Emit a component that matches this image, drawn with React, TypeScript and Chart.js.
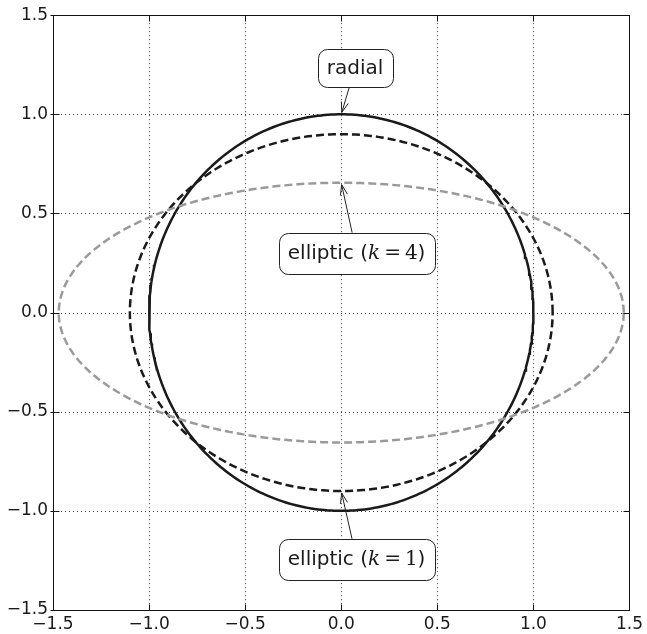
import { useEffect, useRef } from 'react';
import { Chart, registerables } from 'chart.js';

Chart.register(...registerables);

// Axis range shared by both axes
const AXIS_MIN = -1.5;
const AXIS_MAX = 1.5;
const TICK_STEP = 0.5;
const tickValues = [-1.5, -1.0, -0.5, 0.0, 0.5, 1.0, 1.5];

// Contours: semi-axes of each closed curve (x half-width, y half-height)
const curveNames = ['elliptic (k=4)', 'elliptic (k=1)', 'radial'];
const semiAxisX = [1.47, 1.1, 1.0];
const semiAxisY = [0.655, 0.9, 1.0];
const curveColors = ['#9a9a9a', '#1a1a1a', '#1a1a1a'];
const curveDashes = [[8, 4], [8, 4], []];
const SAMPLES = 360;

// Callouts: label text, the point they point at, and where the box sits
const calloutPrefix = ['radial', 'elliptic (', 'elliptic ('];
const calloutK = ['', '4', '1'];
const calloutTargetX = [0, 0, 0];
const calloutTargetY = [semiAxisY[2], semiAxisY[0], -semiAxisY[1]];
const calloutBoxX = [0.072, 0.08, 0.08];
const calloutBoxY = [1.235, 0.3, -1.244];

const SANS = '"DejaVu Sans", sans-serif';
const SERIF = '"DejaVu Serif", serif';

function fmtTick(v: number): string {
  const s = Math.abs(v).toFixed(1);
  return v < 0 ? '\u2212' + s : s;
}

function ellipsePoints(a: number, b: number) {
  const pts: { x: number; y: number }[] = [];
  for (let i = 0; i <= SAMPLES; i++) {
    const t = (i / SAMPLES) * Math.PI * 2;
    pts.push({ x: a * Math.cos(t), y: b * Math.sin(t) });
  }
  return pts;
}

const framePlugin = {
  id: 'frameAndGrid',
  beforeDatasetsDraw(chart: any) {
    const { ctx, chartArea: a, scales } = chart;
    ctx.save();
    ctx.strokeStyle = 'rgba(0,0,0,0.75)';
    ctx.lineWidth = 1;
    ctx.setLineDash([1, 3]);
    for (const v of tickValues) {
      const x = Math.round(scales.x.getPixelForValue(v)) + 0.5;
      ctx.beginPath();
      ctx.moveTo(x, a.top);
      ctx.lineTo(x, a.bottom);
      ctx.stroke();
      const y = Math.round(scales.y.getPixelForValue(v)) + 0.5;
      ctx.beginPath();
      ctx.moveTo(a.left, y);
      ctx.lineTo(a.right, y);
      ctx.stroke();
    }
    ctx.restore();
  },
  afterDraw(chart: any) {
    const { ctx, chartArea: a, scales } = chart;
    ctx.save();
    ctx.setLineDash([]);
    ctx.strokeStyle = '#111';
    ctx.lineWidth = 1;
    const L = Math.round(a.left) + 0.5;
    const R = Math.round(a.right) + 0.5;
    const T = Math.round(a.top) + 0.5;
    const B = Math.round(a.bottom) + 0.5;
    ctx.strokeRect(L, T, R - L, B - T);
    const tl = 6;
    ctx.beginPath();
    for (const v of tickValues) {
      const x = Math.round(scales.x.getPixelForValue(v)) + 0.5;
      ctx.moveTo(x, B);
      ctx.lineTo(x, B - tl);
      ctx.moveTo(x, T);
      ctx.lineTo(x, T + tl);
      const y = Math.round(scales.y.getPixelForValue(v)) + 0.5;
      ctx.moveTo(L - 3, y);
      ctx.lineTo(L + tl, y);
      ctx.moveTo(R, y);
      ctx.lineTo(R - tl, y);
    }
    ctx.stroke();

    // Callouts with rounded boxes and open arrows
    for (let i = 0; i < calloutPrefix.length; i++) {
      const segs: { t: string; f: string }[] = [];
      segs.push({ t: calloutPrefix[i], f: `20px ${SANS}` });
      if (calloutK[i]) {
        segs.push({ t: 'k', f: `italic 20px ${SERIF}` });
        segs.push({ t: '\u2009=\u2009', f: `20px ${SERIF}` });
        segs.push({ t: calloutK[i], f: `20px ${SERIF}` });
        segs.push({ t: ')', f: `20px ${SANS}` });
      }
      let w = 0;
      const widths: number[] = [];
      for (const s of segs) {
        ctx.font = s.f;
        const m = ctx.measureText(s.t).width;
        widths.push(m);
        w += m;
      }
      const cx = scales.x.getPixelForValue(calloutBoxX[i]);
      const cy = scales.y.getPixelForValue(calloutBoxY[i]);
      const padX = 9;
      const bw = w + padX * 2;
      const bh = calloutK[i] ? 41 : 38;
      const bx = Math.round(cx - bw / 2) + 0.5;
      const by = Math.round(cy - bh / 2) + 0.5;

      // arrow
      const tx = scales.x.getPixelForValue(calloutTargetX[i]);
      const ty = scales.y.getPixelForValue(calloutTargetY[i]);
      const dx = tx - cx;
      const dy = ty - cy;
      const tt = Math.min(
        Math.abs(dx) > 1e-6 ? bw / 2 / Math.abs(dx) : Infinity,
        Math.abs(dy) > 1e-6 ? bh / 2 / Math.abs(dy) : Infinity
      );
      const sx = cx + dx * tt;
      const sy = cy + dy * tt;
      const len = Math.hypot(tx - sx, ty - sy);
      const ux = (tx - sx) / len;
      const uy = (ty - sy) / len;
      const ex = tx - ux * 2;
      const ey = ty - uy * 2;
      ctx.strokeStyle = '#222';
      ctx.lineWidth = 1;
      ctx.beginPath();
      ctx.moveTo(sx, sy);
      ctx.lineTo(ex, ey);
      const ah = 11;
      const ang = 0.33;
      const back = Math.atan2(-uy, -ux);
      ctx.moveTo(ex + Math.cos(back + ang) * ah, ey + Math.sin(back + ang) * ah);
      ctx.lineTo(ex, ey);
      ctx.lineTo(ex + Math.cos(back - ang) * ah, ey + Math.sin(back - ang) * ah);
      ctx.stroke();

      // box
      ctx.beginPath();
      ctx.roundRect(bx, by, Math.round(bw), bh, 9);
      ctx.fillStyle = '#ffffff';
      ctx.fill();
      ctx.strokeStyle = '#222';
      ctx.lineWidth = 1;
      ctx.stroke();

      // text
      ctx.fillStyle = '#1a1a1a';
      ctx.textBaseline = 'middle';
      ctx.textAlign = 'left';
      let x = cx - w / 2;
      for (let j = 0; j < segs.length; j++) {
        ctx.font = segs[j].f;
        ctx.fillText(segs[j].t, x, cy + 1);
        x += widths[j];
      }
    }
    ctx.restore();
  },
};

export default function App() {
  const canvasRef = useRef<HTMLCanvasElement | null>(null);

  useEffect(() => {
    const canvas = canvasRef.current;
    if (!canvas) return;
    const datasets = curveNames.map((name, i) => ({
      label: name,
      data: ellipsePoints(semiAxisX[i], semiAxisY[i]),
      showLine: true,
      borderColor: curveColors[i],
      borderWidth: 2.5,
      borderDash: curveDashes[i],
      pointRadius: 0,
      pointHoverRadius: 0,
      fill: false,
      tension: 0,
    }));
    const tickFont = { family: SANS, size: 17 };
    const chart = new Chart(canvas, {
      type: 'scatter',
      data: { datasets },
      options: {
        responsive: false,
        animation: false,
        events: [],
        layout: { padding: { top: 14, right: 15, left: 0, bottom: 0 } },
        plugins: { legend: { display: false }, tooltip: { enabled: false } },
        scales: {
          x: {
            type: 'linear',
            min: AXIS_MIN,
            max: AXIS_MAX,
            grid: { display: false, drawTicks: false },
            border: { display: false },
            ticks: {
              stepSize: TICK_STEP,
              padding: 4,
              color: '#1a1a1a',
              font: tickFont,
              maxRotation: 0,
              autoSkip: false,
              callback: (v: any) => fmtTick(Number(v)),
            },
            afterFit: (s: any) => {
              s.height = 24;
            },
          },
          y: {
            type: 'linear',
            min: AXIS_MIN,
            max: AXIS_MAX,
            grid: { display: false, drawTicks: false },
            border: { display: false },
            ticks: {
              stepSize: TICK_STEP,
              padding: 5,
              color: '#1a1a1a',
              font: tickFont,
              autoSkip: false,
              callback: (v: any) => fmtTick(Number(v)),
            },
            afterFit: (s: any) => {
              s.width = 53;
            },
          },
        },
      },
      plugins: [framePlugin],
    } as any);
    return () => chart.destroy();
  }, []);

  return (
    <div style={{ position: 'absolute', left: 0, top: 0, width: 647, height: 634, background: '#fff' }}>
      <canvas ref={canvasRef} width={647} height={634} style={{ display: 'block' }} />
    </div>
  );
}
